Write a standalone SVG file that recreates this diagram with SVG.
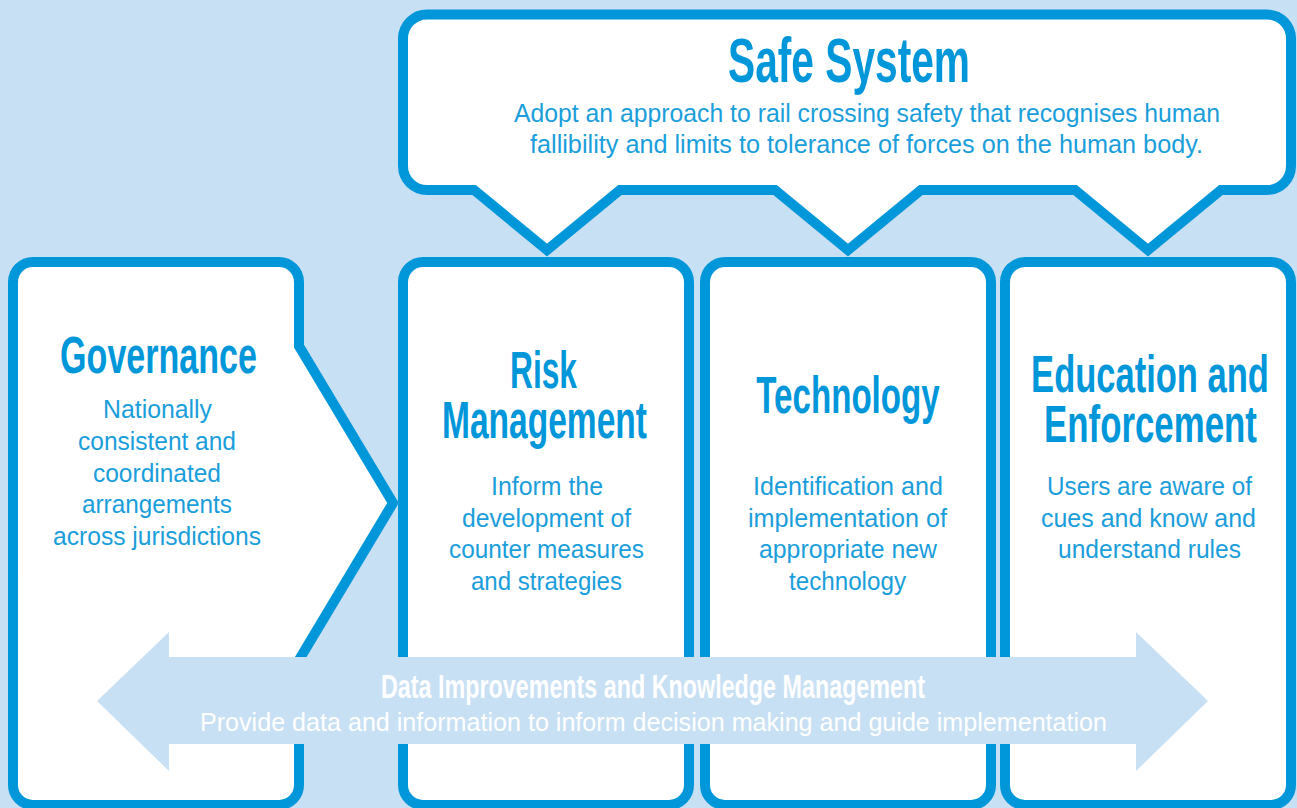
<svg xmlns="http://www.w3.org/2000/svg" width="1297" height="808" viewBox="0 0 1297 808">
<defs>
<style>
.shape{fill:#FFFFFF;stroke:#0097DA;stroke-width:10;stroke-linejoin:miter;stroke-miterlimit:10}
.title{font-family:"Liberation Sans",Arial,sans-serif;font-weight:bold;font-size:52px;fill:#0097DA;text-anchor:middle}
.body{font-family:"Liberation Sans",Arial,sans-serif;font-size:25px;fill:#1A9EDB;text-anchor:middle}
.arrow{fill:#C8E0F3}
.wtitle{font-family:"Liberation Sans",Arial,sans-serif;font-weight:bold;font-size:34px;fill:#FFFFFF;text-anchor:middle}
.wbody{font-family:"Liberation Sans",Arial,sans-serif;font-size:25px;fill:#FFFFFF;text-anchor:middle}
</style>
</defs>
<rect x="0" y="0" width="1297" height="808" fill="#C8E0F3"/>

<g id="safe-system">
<path class="shape" d="M427,14.5 H1267 A24,24 0 0 1 1291,38.5 V166 A24,24 0 0 1 1267,190 H1221 L1148,250 L1075,190 H921 L848,250 L775,190 H620 L547,250 L474,190 H427 A24,24 0 0 1 403,166 V38.5 A24,24 0 0 1 427,14.5 Z"/>
<text class="title" transform="translate(849,82) scale(0.646,1)" x="0" y="0" style="font-size:63px">Safe System</text>
<text class="body" x="867" y="122" textLength="706" lengthAdjust="spacingAndGlyphs">Adopt an approach to rail crossing safety that recognises human</text>
<text class="body" x="866.5" y="153" textLength="673" lengthAdjust="spacingAndGlyphs">fallibility and limits to tolerance of forces on the human body.</text>
</g>

<g id="governance">
<path class="shape" d="M33,262 H279 A20,20 0 0 1 299,282 V346 L393,503 L299,660 V785 A20,20 0 0 1 279,805 H33 A20,20 0 0 1 13,785 V282 A20,20 0 0 1 33,262 Z"/>
<text class="title" transform="translate(158.5,373) scale(0.655,1)" x="0" y="0">Governance</text>
<text class="body" x="157.5" y="418" textLength="109" lengthAdjust="spacingAndGlyphs">Nationally</text>
<text class="body" x="157" y="450" textLength="158" lengthAdjust="spacingAndGlyphs">consistent and</text>
<text class="body" x="157" y="482" textLength="128" lengthAdjust="spacingAndGlyphs">coordinated</text>
<text class="body" x="157" y="513" textLength="150" lengthAdjust="spacingAndGlyphs">arrangements</text>
<text class="body" x="157" y="545" textLength="208" lengthAdjust="spacingAndGlyphs">across jurisdictions</text>
</g>

<g id="risk-management">
<rect class="shape" x="403" y="262" width="286" height="543" rx="20" ry="20"/>
<text class="title" transform="translate(543.5,388) scale(0.61,1)" x="0" y="0">Risk</text>
<text class="title" transform="translate(544.5,438) scale(0.645,1)" x="0" y="0">Management</text>
<text class="body" x="547" y="495" textLength="112" lengthAdjust="spacingAndGlyphs">Inform the</text>
<text class="body" x="546.5" y="527" textLength="169" lengthAdjust="spacingAndGlyphs">development of</text>
<text class="body" x="546.5" y="558" textLength="195" lengthAdjust="spacingAndGlyphs">counter measures</text>
<text class="body" x="546.5" y="590" textLength="151" lengthAdjust="spacingAndGlyphs">and strategies</text>
</g>

<g id="technology">
<rect class="shape" x="705" y="262" width="286" height="543" rx="20" ry="20"/>
<text class="title" transform="translate(848,413) scale(0.637,1)" x="0" y="0">Technology</text>
<text class="body" x="848" y="495" textLength="190" lengthAdjust="spacingAndGlyphs">Identification and</text>
<text class="body" x="847.5" y="527" textLength="199" lengthAdjust="spacingAndGlyphs">implementation of</text>
<text class="body" x="848" y="558" textLength="178" lengthAdjust="spacingAndGlyphs">appropriate new</text>
<text class="body" x="847.5" y="590" textLength="117" lengthAdjust="spacingAndGlyphs">technology</text>
</g>

<g id="education-enforcement">
<rect class="shape" x="1005" y="262" width="286" height="543" rx="20" ry="20"/>
<text class="title" transform="translate(1150,392) scale(0.664,1)" x="0" y="0">Education and</text>
<text class="title" transform="translate(1150.5,442) scale(0.67,1)" x="0" y="0">Enforcement</text>
<text class="body" x="1149.5" y="495" textLength="205" lengthAdjust="spacingAndGlyphs">Users are aware of</text>
<text class="body" x="1148.5" y="527" textLength="215" lengthAdjust="spacingAndGlyphs">cues and know and</text>
<text class="body" x="1149.5" y="558" textLength="183" lengthAdjust="spacingAndGlyphs">understand rules</text>
</g>

<g id="data-knowledge">
<polygon class="arrow" points="97,701 169,632 169,657 1136,657 1136,632 1208,701 1136,771 1136,744 169,744 169,771"/>
<text class="wtitle" transform="translate(653,698) scale(0.686,1)" x="0" y="0">Data Improvements and Knowledge Management</text>
<text class="wbody" x="653.5" y="731" textLength="907" lengthAdjust="spacingAndGlyphs">Provide data and information to inform decision making and guide implementation</text>
</g>
</svg>
